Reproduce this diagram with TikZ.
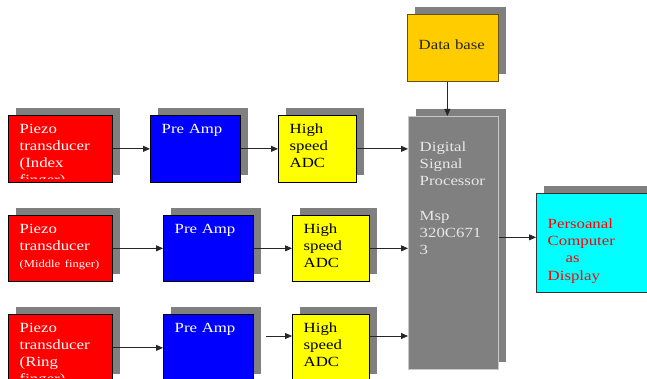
\documentclass[tikz,border=0pt]{standalone}
\usepackage{fontspec}
\setmainfont{Liberation Serif}[FakeStretch=1.2]
\usetikzlibrary{arrows.meta,calc,shadows}
\definecolor{shade}{HTML}{808080}
\definecolor{piezo}{HTML}{FF0000}
\definecolor{amp}{HTML}{0000FF}
\definecolor{adc}{HTML}{FFFF00}
\definecolor{dbase}{HTML}{FFCC00}
\definecolor{screen}{HTML}{00FFFF}
\definecolor{dspline}{HTML}{C8C8C8}
\definecolor{dspink}{HTML}{E8E8E8}
\tikzset{boxink/.store in=\boxink,boxink=black,
blockbox/.style={anchor=north west,inner sep=0pt,line width=.7pt,general shadow={fill=shade,shadow xshift=8pt,shadow yshift=7pt}},
blocktext/.style={path picture={\clip (path picture bounding box.north west) rectangle ([yshift=4pt]path picture bounding box.south east);
 \node[anchor=base west,inner sep=0pt,text width=160pt,align=left,font=\fontsize{14}{17.2}\selectfont,text=\boxink] at ([shift={(11pt,-18pt)}]path picture bounding box.north west) {#1};}},
piezobox/.style={blockbox,fill=piezo,draw=black,boxink=white,minimum width=104pt,minimum height=67pt},
ampbox/.style={blockbox,fill=amp,draw=black,boxink=white,minimum width=90pt,minimum height=67pt},
adcbox/.style={blockbox,fill=adc,draw=black,boxink=black,minimum width=78pt,minimum height=67pt},
dspbox/.style={blockbox,fill=shade,draw=dspline,boxink=dspink,minimum width=90pt,minimum height=253pt},
dbbox/.style={blockbox,fill=dbase,draw=black!60!dbase,boxink=black!85,minimum width=91pt,minimum height=67pt},
pcbox/.style={blockbox,fill=screen,draw=black!80,boxink=red,minimum width=120pt,minimum height=99pt},
link/.style={-{Triangle[length=7pt,width=6pt]},line width=.8pt,black!85}}
\begin{document}
\begin{tikzpicture}[x=1pt,y=-1pt]
\path[use as bounding box,clip] (0,0) rectangle (647,379);
% first row: index finger
\node[piezobox,blocktext={Piezo\\transducer\\(Index\\finger)}] (pz1) at (8,115) {};
\node[ampbox,blocktext={Pre Amp}] (pa1) at (150,115) {};
\node[adcbox,blocktext={High\\speed\\ADC}] (adc1) at (278,115) {};
% second row: middle finger
\node[piezobox,minimum height=66pt,blocktext={Piezo\\transducer\\{\fontsize{10.5}{17.2}\selectfont(Middle finger)}}] (pz2) at (8,215) {};
\node[ampbox,minimum height=66pt,blocktext={Pre Amp}] (pa2) at (163,215) {};
\node[adcbox,minimum width=77pt,minimum height=66pt,blocktext={High\\speed\\ADC}] (adc2) at (292,215) {};
% third row: ring finger
\node[piezobox,blocktext={Piezo\\transducer\\(Ring\\finger)}] (pz3) at (8,314) {};
\node[ampbox,blocktext={Pre Amp}] (pa3) at (163,314) {};
\node[adcbox,minimum width=77pt,blocktext={High\\speed\\ADC}] (adc3) at (292,314) {};
% processor, data base and display
\node[dspbox,blocktext={\mbox{}\\Digital\\Signal\\Processor\\\mbox{}\\Msp\\320C671\\3}] (dsp) at (408,116) {};
\node[dbbox,blocktext={\mbox{}\\Data base}] (db) at (407,14) {};
\node[pcbox,blocktext={\mbox{}\\Persoanal\\Computer\\\hspace*{18pt}as\\Display}] (pc) at (536,193) {};
\coordinate (gap3) at (266,336);
\draw[link] (pz1)--(pa1);
\draw[link] (pa1)--(adc1);
\draw[link] (adc1)--(adc1 -| dsp.west);
\draw[link] (pz2)--(pa2);
\draw[link] (pa2)--(adc2);
\draw[link] (adc2)--(adc2 -| dsp.west);
\draw[link] (pz3)--(pa3);
\draw[link] (gap3)--(gap3 -| adc3.west);
\draw[link] (gap3 -| adc3.east)--(gap3 -| dsp.west);
\draw[link] ([xshift=-5.5pt]db.south)--([xshift=-5.5pt]db.south |- dsp.north);
\draw[link] ([yshift=5.5pt]dsp.east)--([yshift=5.5pt]dsp.east -| pc.west);
\end{tikzpicture}
\end{document}
